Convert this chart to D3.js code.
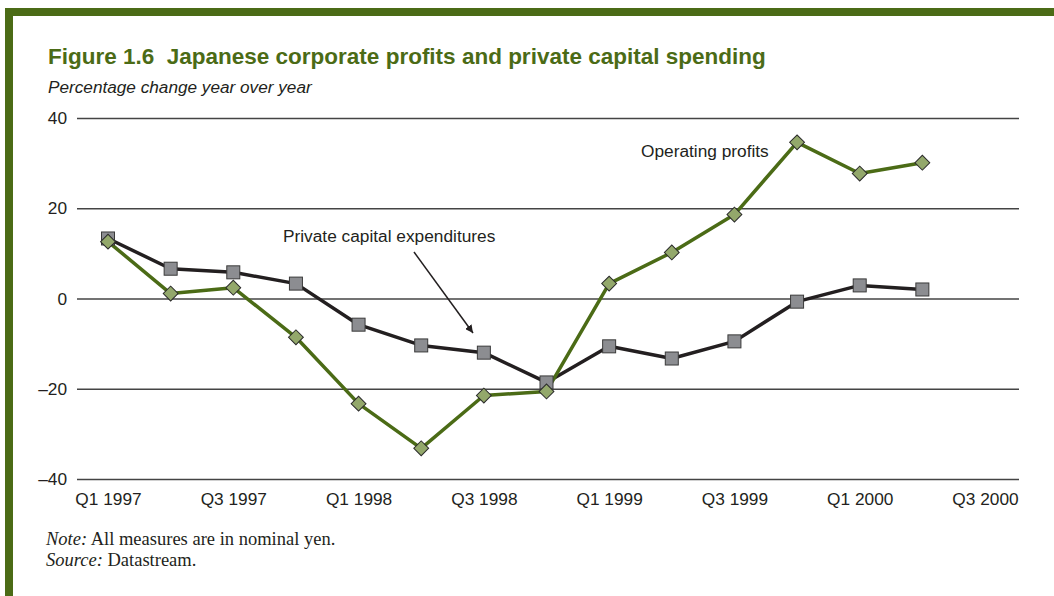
<!DOCTYPE html>
<html><head><meta charset="utf-8">
<script src="https://cdn.jsdelivr.net/npm/d3@7"></script>
<style>body{margin:0;background:#fff}svg{display:block}</style>
</head><body>
<svg id="c" width="1054" height="596"></svg>
<script>
const quarters = ["Q1 1997","Q2 1997","Q3 1997","Q4 1997","Q1 1998","Q2 1998","Q3 1998","Q4 1998","Q1 1999","Q2 1999","Q3 1999","Q4 1999","Q1 2000","Q2 2000","Q3 2000"];
const tickLabels = ["Q1 1997","Q3 1997","Q1 1998","Q3 1998","Q1 1999","Q3 1999","Q1 2000","Q3 2000"];
const capex = [13.3,6.6,5.8,3.3,-5.8,-10.4,-12.0,-18.6,-10.6,-13.3,-9.5,-0.7,2.9,2.0];
const profits = [12.6,1.1,2.4,-8.6,-23.3,-33.2,-21.5,-20.6,3.3,10.2,18.6,34.6,27.7,30.1];
const yTicks = [40,20,0,-20,-40];

const svg = d3.select("#c");
const green = "#4b6b16";
const sans = "Liberation Sans, Arial, sans-serif";
// frame
svg.append("rect").attr("x",5).attr("y",8).attr("width",1049).attr("height",8).attr("fill",green);
svg.append("rect").attr("x",5).attr("y",8).attr("width",8).attr("height",588).attr("fill",green);

svg.append("text").attr("x",48).attr("y",64).attr("fill",green)
  .attr("font-family",sans).attr("font-weight","bold").attr("font-size",22.5)
  .attr("xml:space","preserve").text("Figure 1.6  Japanese corporate profits and private capital spending");
svg.append("text").attr("x",48).attr("y",93).attr("fill","#231f20")
  .attr("font-family",sans).attr("font-style","italic").attr("font-size",17.2)
  .text("Percentage change year over year");

const x = d3.scalePoint().domain(quarters).range([108,985]);
const y = d3.scaleLinear().domain([-40,40]).range([479,118]);

const yAxis = svg.append("g").attr("transform","translate(77,0)")
  .call(d3.axisLeft(y).tickValues(yTicks).tickSize(-942).tickFormat(d => d<0 ? "\u2013"+Math.abs(d) : d));
yAxis.select(".domain").remove();
yAxis.selectAll(".tick line").attr("stroke","#444").attr("stroke-width",1.3);
yAxis.selectAll(".tick text").attr("x",-10).attr("font-size",17.3).attr("fill","#231f20")
  .attr("font-family",sans);

const xAxis = svg.append("g").attr("transform","translate(0,479)")
  .call(d3.axisBottom(x).tickValues(tickLabels).tickSize(0).tickPadding(14));
xAxis.select(".domain").remove();
xAxis.selectAll(".tick text").attr("font-size",17.3).attr("fill","#231f20")
  .attr("font-family",sans);

const line = d3.line().x((d,i)=>x(quarters[i])).y(d=>y(d));
svg.append("path").datum(capex).attr("d",line).attr("fill","none").attr("stroke","#231f20").attr("stroke-width",3.5).attr("stroke-linejoin","round");
svg.append("path").datum(profits).attr("d",line).attr("fill","none").attr("stroke",green).attr("stroke-width",3.5).attr("stroke-linejoin","round");

svg.append("g").selectAll("rect").data(capex).join("rect")
  .attr("x",(d,i)=>x(quarters[i])-6.5).attr("y",d=>y(d)-6.5).attr("width",13).attr("height",13)
  .attr("fill","#8c8d91").attr("stroke","#3a3a3a").attr("stroke-width",1);
svg.append("g").selectAll("path").data(profits).join("path")
  .attr("d",d3.symbol().type(d3.symbolSquare).size(110))
  .attr("transform",(d,i)=>`translate(${x(quarters[i])},${y(d)}) rotate(45)`)
  .attr("fill","#93a86b").attr("stroke","#2a2a2a").attr("stroke-width",1);

// annotations
svg.append("text").attr("x",641).attr("y",157).attr("font-size",17.3).attr("fill","#231f20")
  .attr("font-family",sans).text("Operating profits");
svg.append("text").attr("x",283).attr("y",242).attr("font-size",17.3).attr("fill","#231f20")
  .attr("font-family",sans).text("Private capital expenditures");
svg.append("defs").append("marker").attr("id","ah").attr("viewBox","0 0 10 10").attr("refX",10).attr("refY",5)
  .attr("markerWidth",8).attr("markerHeight",8).attr("markerUnits","userSpaceOnUse").attr("orient","auto")
  .append("path").attr("d","M0,0 L10,5 L0,10 Z").attr("fill","#231f20");
svg.append("line").attr("x1",414).attr("y1",252).attr("x2",473).attr("y2",333)
  .attr("stroke","#231f20").attr("stroke-width",1.5).attr("marker-end","url(#ah)");

const notes = svg.append("g").attr("font-family","Liberation Serif, Times New Roman, serif").attr("font-size",18.5).attr("fill","#231f20");
const n1 = notes.append("text").attr("x",46).attr("y",545);
n1.append("tspan").attr("font-style","italic").text("Note:");
n1.append("tspan").text(" All measures are in nominal yen.");
const n2 = notes.append("text").attr("x",46).attr("y",566);
n2.append("tspan").attr("font-style","italic").text("Source:");
n2.append("tspan").text(" Datastream.");
</script>
</body></html>
